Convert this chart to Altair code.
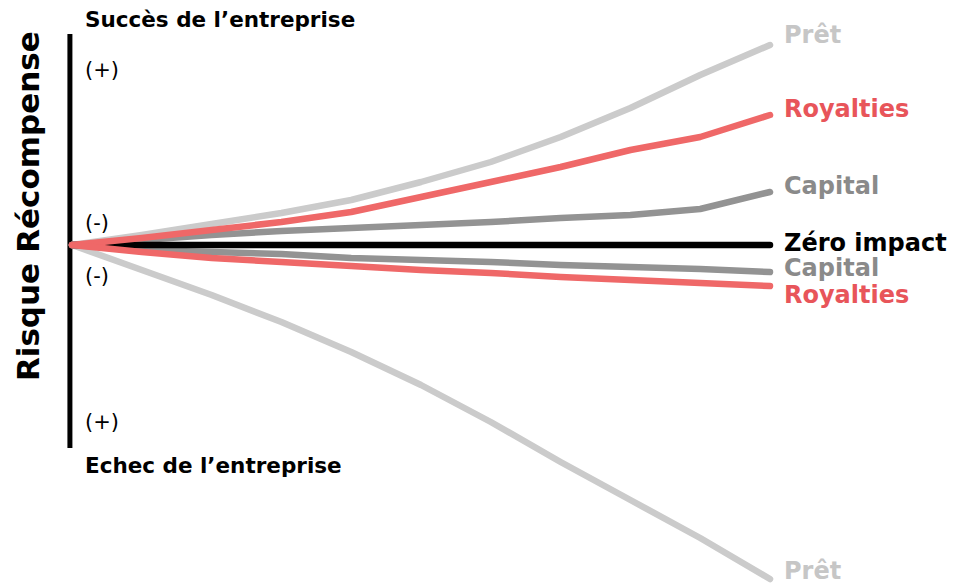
import altair as alt
import pandas as pd

# ---- data (y = relative outcome, 0 = zero impact) ----
steps = list(range(11))
pret_up = [0, 10, 21, 32, 45, 63, 83, 108, 137, 170, 200]
royalties_up = [0, 7, 15, 23, 33, 48, 63, 78, 95, 108, 130]
capital_up = [0, 5, 10, 14, 17, 20, 23, 27, 30, 36, 53]
zero_impact = [0, 0, 0, 0, 0, 0, 0, 0, 0, 0, 0]
capital_down = [0, -5, -7, -9, -13, -15, -17, -20, -22, -24, -27]
royalties_down = [0, -7, -13, -17, -21, -25, -28, -32, -35, -38, -41]
pret_down = [0, -25, -50, -77, -107, -140, -177, -217, -255, -293, -334]

series_names = ["Prêt (haut)", "Prêt (bas)", "Capital (haut)", "Capital (bas)",
                "Zéro impact", "Royalties (haut)", "Royalties (bas)"]
series_values = [pret_up, pret_down, capital_up, capital_down,
                 zero_impact, royalties_up, royalties_down]
series_labels = ["Prêt", "Prêt", "Capital", "Capital", "Zéro impact", "Royalties", "Royalties"]

# ---- styles ----
line_colors = ["#cbcbcb", "#cbcbcb", "#939393", "#939393", "#000000", "#ef6868", "#ef6868"]
text_colors = ["#c6c6c6", "#c6c6c6", "#8a8a8a", "#8a8a8a", "#000000", "#e8555a", "#e8555a"]
label_dy = [-9, -7, -5, -3, -1, -5, 10]

FONT = "DejaVu Sans"
xscale = alt.Scale(domain=[-0.917, 12.55], nice=False, zero=False)
yscale = alt.Scale(domain=[-341, 237], nice=False, zero=False)

layers = []

# vertical axis bar
axis_df = pd.DataFrame({"x": [-0.03], "y": [211], "y2": [-203]})
layers.append(
    alt.Chart(axis_df).mark_rule(color="black", strokeWidth=5).encode(
        x=alt.X("x:Q", scale=xscale, axis=None),
        y=alt.Y("y:Q", scale=yscale, axis=None),
        y2="y2:Q",
    )
)

for name, vals, lc in zip(series_names, series_values, line_colors):
    df = pd.DataFrame({"x": steps, "y": vals})
    layers.append(
        alt.Chart(df).mark_line(color=lc, strokeWidth=6.5, strokeCap="round",
                                strokeJoin="round").encode(
            x=alt.X("x:Q", scale=xscale, axis=None),
            y=alt.Y("y:Q", scale=yscale, axis=None),
        )
    )

for lab, vals, tc, ddy in zip(series_labels, series_values, text_colors, label_dy):
    df = pd.DataFrame({"x": [steps[-1]], "y": [vals[-1]], "t": [lab]})
    layers.append(
        alt.Chart(df).mark_text(align="left", baseline="middle", dx=14, dy=ddy,
                                font=FONT, fontSize=24, fontWeight="bold", color=tc).encode(
            x=alt.X("x:Q", scale=xscale, axis=None),
            y=alt.Y("y:Q", scale=yscale, axis=None),
            text="t:N",
        )
    )

# annotations near the axis
ann_bold = pd.DataFrame({
    "x": [0.186, 0.186],
    "y": [218, -228],
    "t": ["Succès de l’entreprise", "Echec de l’entreprise"],
})
layers.append(
    alt.Chart(ann_bold).mark_text(align="left", baseline="alphabetic", font=FONT,
                                  fontSize=21.5, fontWeight="bold", color="black").encode(
        x=alt.X("x:Q", scale=xscale, axis=None),
        y=alt.Y("y:Q", scale=yscale, axis=None),
        text="t:N",
    )
)
ann_signs = pd.DataFrame({
    "x": [0.186, 0.186, 0.186, 0.186],
    "y": [168, 15, -38, -184],
    "t": ["(+)", "(-)", "(-)", "(+)"],
})
layers.append(
    alt.Chart(ann_signs).mark_text(align="left", baseline="alphabetic", font=FONT,
                                   fontSize=21, color="black").encode(
        x=alt.X("x:Q", scale=xscale, axis=None),
        y=alt.Y("y:Q", scale=yscale, axis=None),
        text="t:N",
    )
)
ann_axis = pd.DataFrame({
    "x": [-0.60, -0.60],
    "y": [103, -77],
    "t": ["Récompense", "Risque"],
})
layers.append(
    alt.Chart(ann_axis).mark_text(align="center", baseline="middle", angle=270, font=FONT,
                                  fontSize=31, fontWeight="bold", color="black").encode(
        x=alt.X("x:Q", scale=xscale, axis=None),
        y=alt.Y("y:Q", scale=yscale, axis=None),
        text="t:N",
    )
)

chart = alt.layer(*layers).properties(
    width=940, height=578, padding=0, autosize=alt.AutoSizeParams(type="none"),
).configure_view(stroke=None)

chart.save("out.html", embed_options={"renderer": "svg", "actions": False})
